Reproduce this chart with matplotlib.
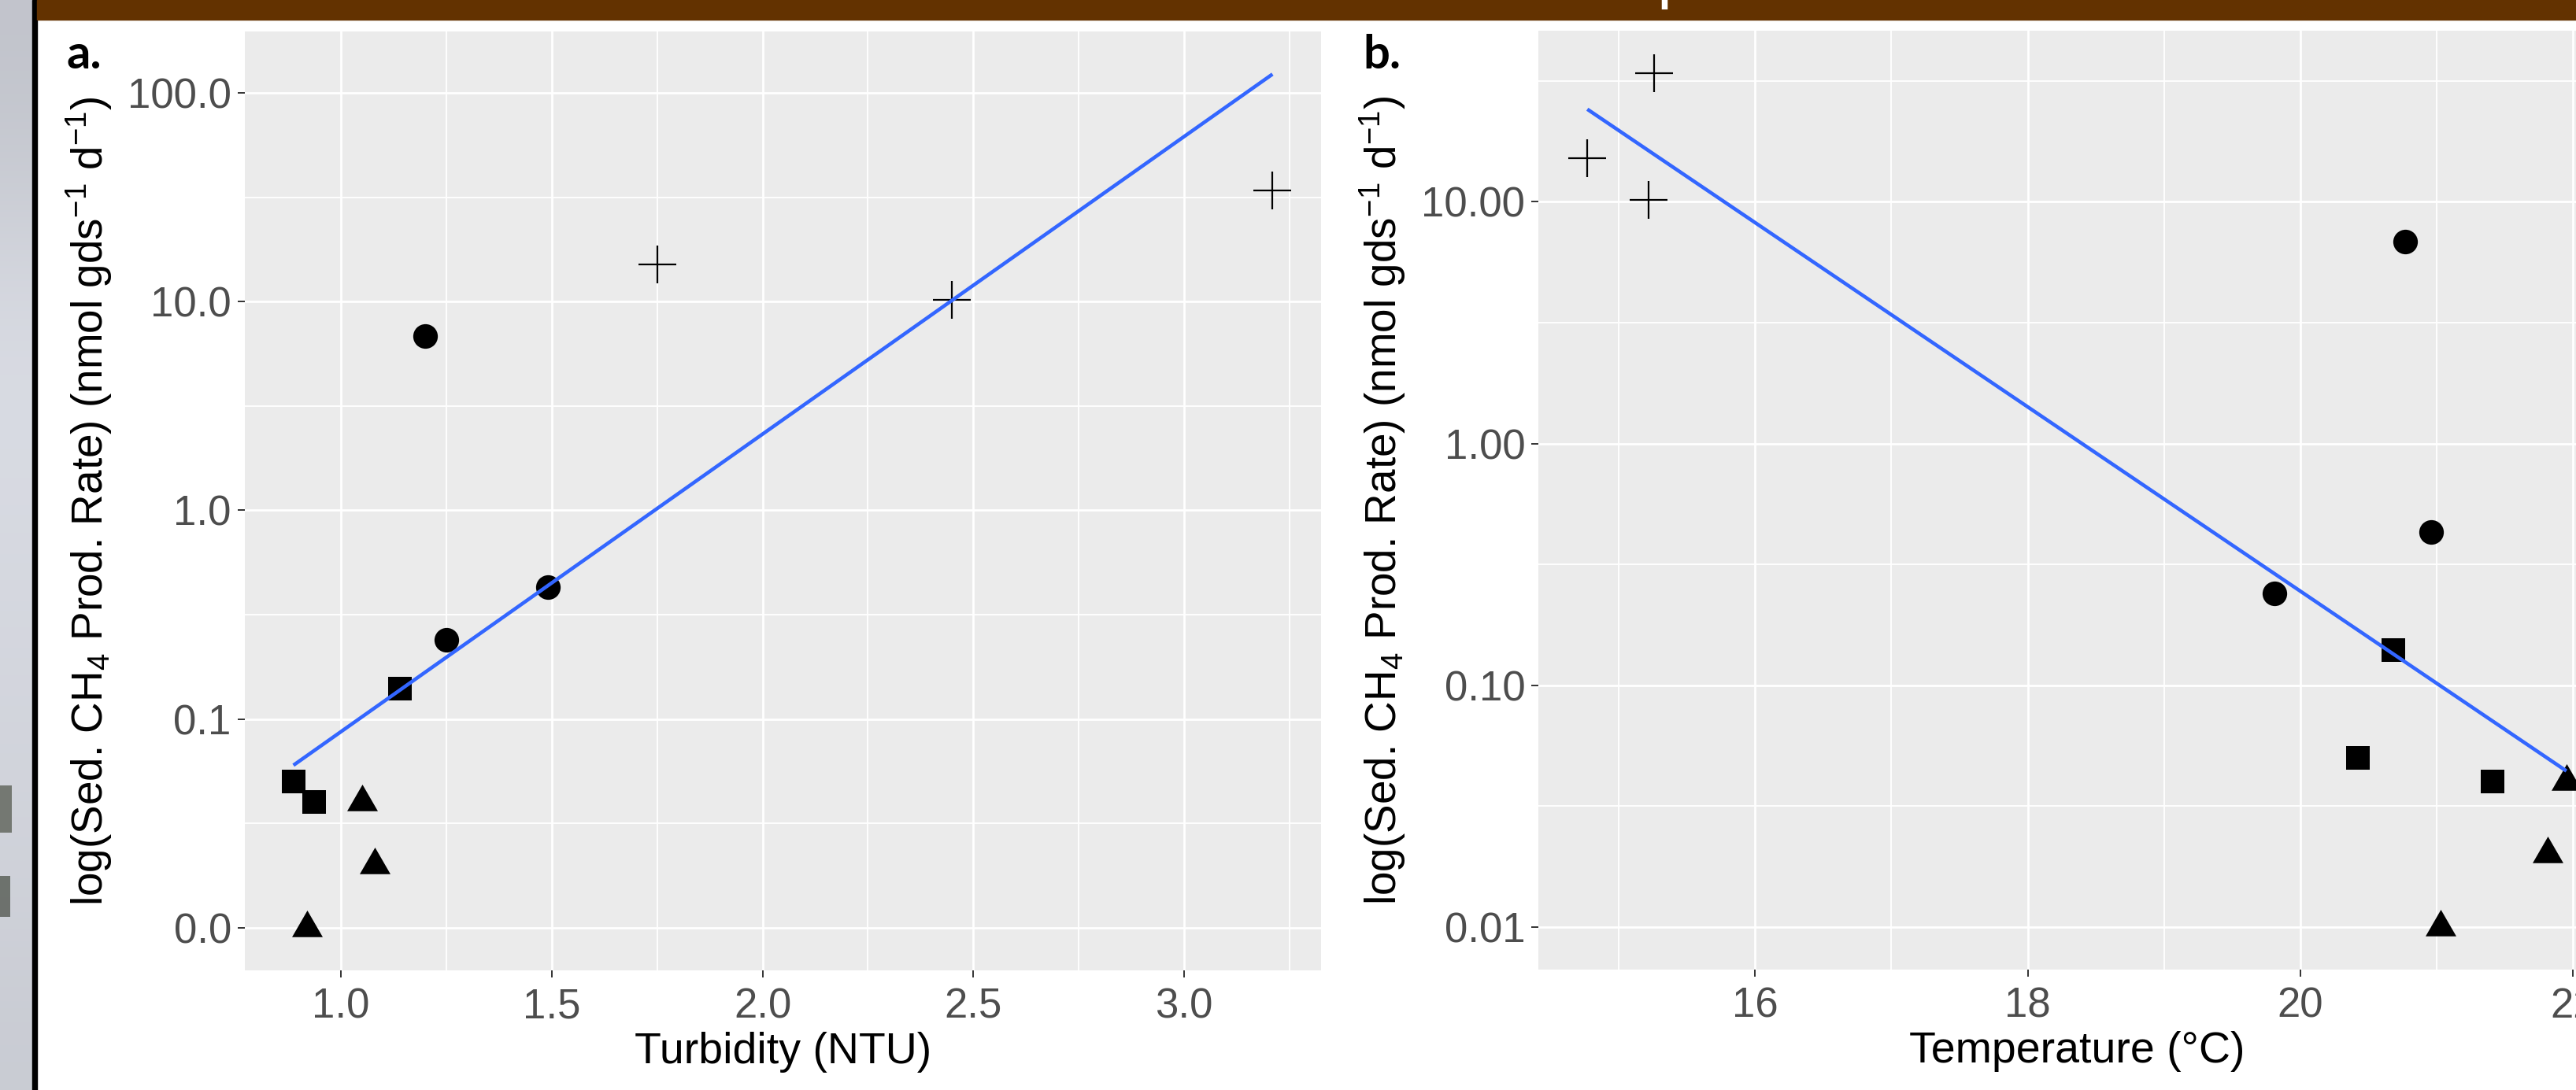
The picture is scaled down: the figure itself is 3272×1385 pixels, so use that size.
import numpy as np
import matplotlib
matplotlib.use('Agg')
import matplotlib.pyplot as plt
from matplotlib.patches import Rectangle

plt.rcParams['font.family'] = ['Liberation Sans', 'DejaVu Sans']
plt.rcParams['mathtext.fontset'] = 'custom'
plt.rcParams['mathtext.rm'] = 'Liberation Sans'
plt.rcParams['mathtext.it'] = 'Liberation Sans:italic'
plt.rcParams['mathtext.bf'] = 'Liberation Sans:bold'
plt.rcParams['mathtext.default'] = 'regular'

# ---------------- data ----------------
site_shape = ['circle', 'circle', 'circle',
              'plus', 'plus', 'plus',
              'square', 'square', 'square',
              'triangle', 'triangle', 'triangle']
turbidity = [1.20, 1.49, 1.25, 1.75, 2.45, 3.21, 1.14, 0.887, 0.937, 1.05, 1.08, 0.92]
temperature = [20.77, 20.96, 19.81, 14.77, 15.22, 15.26, 20.68, 20.42, 21.41, 21.95, 21.81, 21.03]
ch4_rate = [6.85, 0.43, 0.24, 15.1, 10.2, 34.0, 0.14, 0.05, 0.04, 0.04, 0.02, 0.01]

a_xticks = [1.0, 1.5, 2.0, 2.5, 3.0]
a_xticklabels = ['1.0', '1.5', '2.0', '2.5', '3.0']
a_yticks = [0.01, 0.1, 1, 10, 100]
a_yticklabels = ['0.0', '0.1', '1.0', '10.0', '100.0']

b_xticks = [16, 18, 20, 22]
b_xticklabels = ['16', '18', '20', '22']
b_yticks = [0.01, 0.1, 1, 10]
b_yticklabels = ['0.01', '0.10', '1.00', '10.00']

ylabel = 'log(Sed. CH$_4$ Prod. Rate) (nmol gds$^{-1}$ d$^{-1}$)'
a_xlabel = 'Turbidity (NTU)'
b_xlabel = 'Temperature (°C)'

# ---------------- styling ----------------
W, H = 3273, 1385
fig = plt.figure(figsize=(W / 100, H / 100), dpi=100)
fig.patch.set_facecolor('white')

tri = [(0, 1.555), (-1.347, -0.778), (1.347, -0.778)]
marker_style = {
    'circle': dict(marker='o', ms=22.5, mew=0),
    'square': dict(marker='s', ms=22.0, mew=0),
    'triangle': dict(marker=tri, ms=32.4, mew=0),
    'plus': dict(marker='+', ms=34.5, mew=1.6),
}


def px_axes(left, top, w, h):
    return [left / W, 1 - (top + h) / H, w / W, h / H]


def expand(lo, hi, f=0.05):
    r = hi - lo
    return lo - f * r, hi + f * r


def panel(ax, x, xticks, xticklabels, yticks, yticklabels, xlabel):
    x = np.asarray(x, float)
    y = np.asarray(ch4_rate, float)
    ly = np.log10(y)
    slope, icpt = np.polyfit(x, ly, 1)
    xl = np.linspace(x.min(), x.max(), 80)
    yl = slope * xl + icpt

    for shape in ['circle', 'plus', 'square', 'triangle']:
        idx = [i for i, s in enumerate(site_shape) if s == shape]
        ax.plot(x[idx], y[idx], ls='none', color='black', zorder=3,
                **marker_style[shape])
    ax.plot(xl, 10 ** yl, color='#3366FF', lw=3.3, zorder=4,
            solid_capstyle='butt')

    ax.set_yscale('log')
    lo = min(ly.min(), yl.min())
    hi = max(ly.max(), yl.max())
    ylo, yhi = expand(lo, hi)

    ax.set_xticks(xticks, xticklabels)
    ax.set_yticks(yticks, yticklabels)
    # ggplot-style minor breaks halfway between majors
    step = xticks[1] - xticks[0]
    xminor = [t + step / 2 for t in xticks] + [xticks[0] - step / 2]
    ax.set_xticks(xminor, minor=True)
    yminor = [10 ** (np.log10(t) + 0.5) for t in yticks] + [10 ** (np.log10(yticks[0]) - 0.5)]
    ax.set_yticks(yminor, minor=True)
    ax.yaxis.set_minor_formatter(matplotlib.ticker.NullFormatter())
    ax.xaxis.set_minor_formatter(matplotlib.ticker.NullFormatter())
    ax.set_xlim(*expand(x.min(), x.max()))
    ax.set_ylim(10 ** ylo, 10 ** yhi)

    ax.set_facecolor('#EBEBEB')
    ax.set_axisbelow(True)
    ax.grid(True, which='major', color='white', lw=2.0)
    ax.grid(True, which='minor', color='white', lw=1.3)
    for s in ax.spines.values():
        s.set_visible(False)
    ax.tick_params(which='major', length=6.5, width=1.4, color='#333333',
                   labelsize=38, labelcolor='#4D4D4D')
    ax.tick_params(axis='x', which='major', pad=9)
    ax.tick_params(axis='y', which='major', pad=5.5)
    ax.tick_params(which='minor', length=0)

    ax.set_ylabel(ylabel, fontsize=39.5, color='black', va='center')
    ax.yaxis.set_label_coords(-0.1444, 0.5)
    ax.set_xlabel(xlabel, fontsize=40, color='black', va='baseline')
    ax.xaxis.set_label_coords(0.5, -0.0989)


ax_a = fig.add_axes(px_axes(310.5, 40, 1368, 1193))
panel(ax_a, turbidity, a_xticks, a_xticklabels, a_yticks, a_yticklabels, a_xlabel)

ax_b = fig.add_axes(px_axes(1954, 39, 1368, 1193))
panel(ax_b, temperature, b_xticks, b_xticklabels, b_yticks, b_yticklabels, b_xlabel)

# ---------------- slide decorations ----------------
strip = fig.add_axes([0, 0, 42 / W, 1])
shade = np.array([[0.76, 0.77, 0.80],
                  [0.79, 0.80, 0.83],
                  [0.84, 0.85, 0.88],
                  [0.85, 0.86, 0.89],
                  [0.84, 0.85, 0.88],
                  [0.83, 0.84, 0.87],
                  [0.82, 0.83, 0.86],
                  [0.81, 0.82, 0.85],
                  [0.79, 0.80, 0.83]])
strip.imshow(np.repeat(shade[:, None, :], 3, axis=1), aspect='auto',
             interpolation='bicubic', extent=(0, 42, H, 0))
strip.add_patch(Rectangle((0, 998), 15, 60, color='#5d6258', alpha=0.8, lw=0))
strip.add_patch(Rectangle((0, 1113), 13, 52, color='#555a52', alpha=0.8, lw=0))
strip.set_xlim(0, 42)
strip.set_ylim(H, 0)
strip.axis('off')

fig.patches.append(Rectangle((41.5 / W, 0), 5.5 / W, 1, transform=fig.transFigure,
                             color='black', zorder=5))
fig.patches.append(Rectangle((47 / W, 1 - 25 / H), 1 - 47 / W, 25 / H,
                             transform=fig.transFigure, color='#633200', zorder=5))
fig.text(2106 / W, 1 - 12.5 / H, '4', color='white', fontsize=50, fontweight='bold',
         family=['Lato', 'DejaVu Sans'], ha='center', va='baseline', zorder=6)

fig.text(85 / W, 1 - 87 / H, 'a.', fontsize=43, fontweight='bold',
         family=['Lato', 'DejaVu Sans'], ha='left', va='baseline')
fig.text(1731 / W, 1 - 87 / H, 'b.', fontsize=43, fontweight='bold',
         family=['Lato', 'DejaVu Sans'], ha='left', va='baseline')

fig.savefig('out.png', dpi=100)
